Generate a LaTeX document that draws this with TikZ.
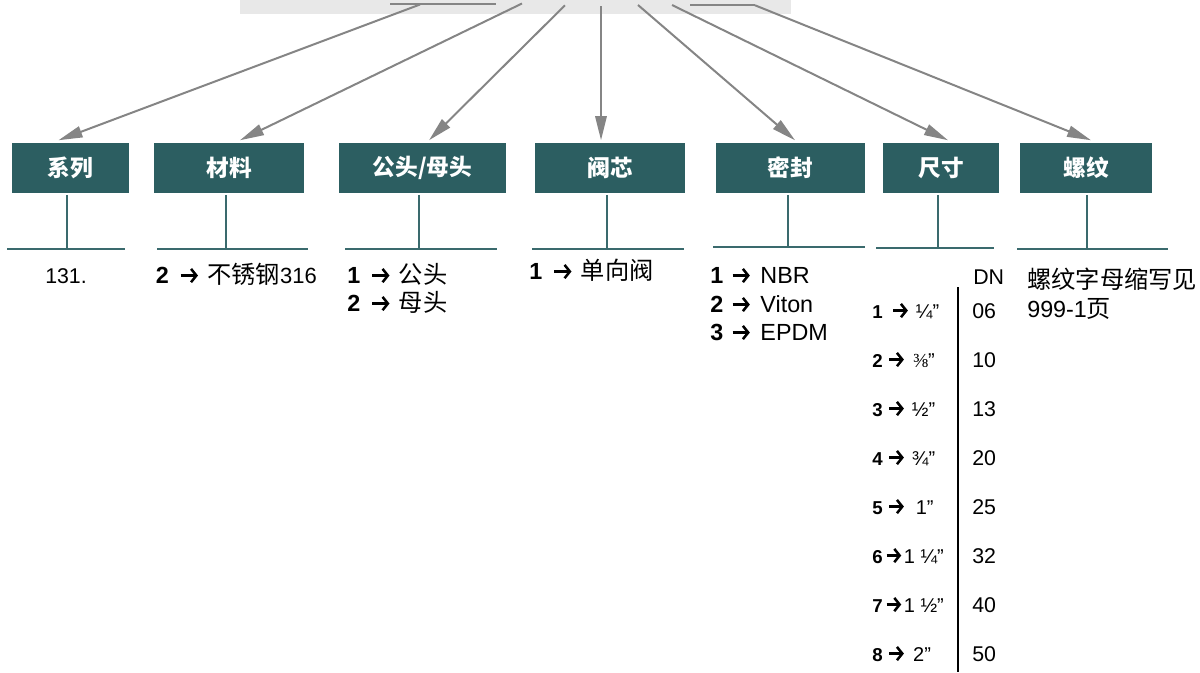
\documentclass[tikz,border=0pt]{standalone}
\usepackage{fontspec}
\setmainfont{Liberation Sans}
\newfontfamily\cjk{Noto Sans CJK SC}
\newfontfamily\cjkl[Scale=1.04]{Noto Sans CJK SC}
\newfontfamily\serfont{Liberation Serif}
\usetikzlibrary{arrows.meta}
\definecolor{boxc}{HTML}{2C5E61}
\definecolor{stemc}{HTML}{3A6A6D}
\definecolor{bandc}{HTML}{E8E8E8}
\definecolor{arrc}{HTML}{858585}
\newcommand\rarr[1][13pt]{\tikz[baseline=-5.6pt]\draw[black,line width=1.9pt,line cap=butt,-{Straight Barb[length=4pt,width=10pt,line width=1.9pt]}] (0pt,0pt) -- (#1,0pt);}
\newcommand\fr[1]{{\fontsize{15}{17}\selectfont #1}}
\newcommand\frs[1]{{\serfont\fontsize{15}{17}\selectfont #1}}
\tikzset{
  box/.style={fill=boxc, inner sep=0pt, minimum height=37.5pt, text=white,
    font=\cjk\bfseries\fontsize{17}{20}\selectfont},
  garr/.style={draw=arrc, line width=1.5pt, -{Triangle[length=18pt,width=8.5pt]}},
  gline/.style={draw=arrc, line width=1.5pt},
  stem/.style={draw=stemc, line width=1.5pt},
  lst/.style={anchor=base west, inner sep=0pt, font=\fontsize{17.5}{20}\selectfont},
  sz/.style={anchor=base west, inner sep=0pt, font=\fontsize{14}{16}\selectfont},
  dn/.style={anchor=base west, inner sep=0pt, font=\fontsize{16}{19}\selectfont}
}
\begin{document}
\begin{tikzpicture}[x=0.75pt,y=-0.75pt]
\useasboundingbox (0,0) rectangle (1200,672);
% top band
\fill[bandc] (240,0) rectangle (791,13.5);
% boxes
\node[box, minimum width=87.75pt] (b1) at (70.5,167.5) {系列};
\node[box, minimum width=112.5pt] (b2) at (229,167.5) {材料};
\node[box, minimum width=125.25pt] (b3) at (422.5,167.5) {公头/母头};
\node[box, minimum width=112.5pt] (b4) at (610,167.5) {阀芯};
\node[box, minimum width=111.75pt] (b5) at (790.5,167.5) {密封};
\node[box, minimum width=87pt] (b6) at (941,167.5) {尺寸};
\node[box, minimum width=99pt] (b7) at (1086,167.5) {螺纹};
% start points in band
\coordinate (h1a) at (390,4.3);
\coordinate (h1b) at (496,4.3);
\coordinate (s1) at (420,4.5);
\coordinate (s2) at (522,3.5);
\coordinate (s3) at (565,5.3);
\coordinate (s4) at (601,6);
\coordinate (s5) at (638,5);
\coordinate (s6) at (672,5);
\coordinate (h7a) at (690,5.3);
\coordinate (s7) at (755,5.3);
\draw[gline] (h1a) -- (h1b);
\draw[gline] (h7a) -- (s7);
\draw[garr] (s1) -- ([xshift=-9pt,yshift=1.5pt]b1.north);
\draw[garr] (s2) -- ([xshift=8.25pt,yshift=1.5pt]b2.north);
\draw[garr] (s3) -- ([xshift=4.9pt,yshift=1.5pt]b3.north);
\draw[garr] (s4) -- ([xshift=-6.75pt,yshift=1.5pt]b4.north);
\draw[garr] (s5) -- ([xshift=3.4pt,yshift=1.5pt]b5.north);
\draw[garr] (s6) -- ([xshift=5.25pt,yshift=1.5pt]b6.north);
\draw[garr] (s7) -- ([xshift=3.75pt,yshift=1.5pt]b7.north);
% stems and bars
\coordinate (k1) at (67,249);   \coordinate (l1) at (7,249);   \coordinate (r1) at (125,249);
\coordinate (k2) at (226,249);  \coordinate (l2) at (157,249); \coordinate (r2) at (308,249);
\coordinate (k3) at (419,249);  \coordinate (l3) at (345,249); \coordinate (r3) at (497,249);
\coordinate (k4) at (607,249);  \coordinate (l4) at (532,249); \coordinate (r4) at (684,249);
\coordinate (k5) at (788,247);  \coordinate (l5) at (713,247); \coordinate (r5) at (865,247);
\coordinate (k6) at (938,248);  \coordinate (l6) at (876,248); \coordinate (r6) at (994,248);
\coordinate (k7) at (1087,249); \coordinate (l7) at (1017,249);\coordinate (r7) at (1168,249);
\foreach \i in {1,...,7}{
  \draw[stem] ([yshift=-1.5pt]b\i.south -| k\i) -- (k\i);
  \draw[stem] (l\i) -- (r\i);
}
% lists
\node[lst, font=\fontsize{16}{19}\selectfont] (t1) at (45,283) {131.};
\node[lst] (t2) at (155.5,283) {\textbf{2}\hspace{8pt}\rarr\hspace{6pt}{\cjkl 不锈钢}{\fontsize{16.5}{19}\selectfont 316}};
\node[lst] (t3a) at (347,283) {\textbf{1}\hspace{8pt}\rarr\hspace{6pt}{\cjkl 公头}};
\node[lst] (t3b) at (347,311) {\textbf{2}\hspace{8pt}\rarr\hspace{6pt}{\cjkl 母头}};
\node[lst] (t4) at (529,279) {\textbf{1}\hspace{8pt}\rarr\hspace{6pt}{\cjkl 单向阀}};
\node[lst] (t5a) at (710,283) {\textbf{1}\hspace{6pt}\rarr\hspace{7pt}NBR};
\node[lst] (t5b) at (710,312) {\textbf{2}\hspace{6pt}\rarr\hspace{7pt}Viton};
\node[lst] (t5c) at (710,340) {\textbf{3}\hspace{6pt}\rarr\hspace{7pt}EPDM};
\node[lst] (t7a) at (1027,288) {\cjkl 螺纹字母缩写见};
\node[lst] (t7b) at (1027,317) {999-1{\cjkl 页}};
% size table
\node[dn] (dn) at (973,284) {DN};
\coordinate (vt) at (958,287);
\coordinate (vb) at (958,672);
\draw[line width=1.5pt] (vt) -- (vb);
\foreach \k/\lab/\num [count=\i from 0] in {
  1/{\hspace{7pt}\rarr[11pt]\hspace{5pt}\fr{¼”}}/06,
  2/{\hspace{4pt}\rarr[11pt]\hspace{6pt}\frs{⅜}\fr{”}}/10,
  3/{\hspace{4pt}\rarr[11pt]\hspace{5pt}\fr{½”}}/13,
  4/{\hspace{4pt}\rarr[11pt]\hspace{5pt}\fr{¾”}}/20,
  5/{\hspace{4pt}\rarr[11pt]\hspace{8pt}\fr{1”}}/25,
  6/{\hspace{2pt}\rarr[11pt]\hspace{1pt}\fr{1 ¼”}}/32,
  7/{\hspace{2pt}\rarr[11pt]\hspace{1pt}\fr{1 ½”}}/40,
  8/{\hspace{4pt}\rarr[11pt]\hspace{6pt}\fr{2”}}/50}{
  \node[sz] (sl\i) at (872,{318+49*\i}) {\textbf{\k}\lab};
  \node[dn] (sn\i) at (972,{318+49*\i}) {\num};
}
\end{tikzpicture}
\end{document}
